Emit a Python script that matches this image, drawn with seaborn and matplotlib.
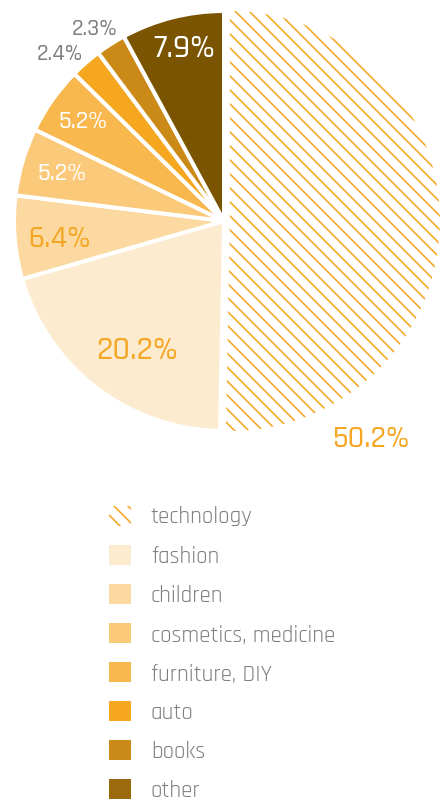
import matplotlib
matplotlib.use("Agg")
import matplotlib.pyplot as plt
from matplotlib.patches import Patch
import seaborn as sns

# Share of online sales by category (%)
categories = ["technology", "fashion", "children", "cosmetics, medicine",
              "furniture, DIY", "auto", "books", "other"]
shares = [50.2, 20.2, 6.4, 5.2, 5.2, 2.4, 2.3, 7.9]
pct_labels = ["50.2%", "20.2%", "6.4%", "5.2%", "5.2%", "2.4%", "2.3%", "7.9%"]

wedge_colors = ["#FFFFFF", "#FDEBCF", "#FCD9A0", "#FBC97A",
                "#F8B84E", "#F5A81F", "#CB8A17", "#7A5400"]
legend_colors = ["#FFFFFF", "#FDEBCF", "#FCD9A0", "#FBC97A",
                 "#F8B84E", "#F5A81F", "#CB8A17", "#9B6A0C"]
label_colors = ["#F5A623", "#F5A623", "#F5A623", "#FFFFFF",
                "#FFFFFF", "#7F7F80", "#7F7F80", "#FFFFFF"]

ORANGE = "#F5A623"
GRAY = "#808080"

DPI = 84
W, H = 444, 799


def pt(px):
    return px * 72 / DPI


sns.set_theme(style="white")
plt.rcParams["font.family"] = ["Rajdhani", "DejaVu Sans"]
plt.rcParams["hatch.linewidth"] = pt(1.6)

fig = plt.figure(figsize=(W / DPI, H / DPI), dpi=DPI)
cx, cy, R = 224, 221, 210
ax = fig.add_axes([(cx - R) / W, 1 - (cy + R) / H, 2 * R / W, 2 * R / H])

explode = [0.028] + [0] * (len(shares) - 1)
wedges, _ = ax.pie(shares, colors=wedge_colors, startangle=90, counterclock=False,
                   explode=explode, radius=1,
                   wedgeprops=dict(edgecolor="white", linewidth=pt(4)))
ax.set_xlim(-1, 1)
ax.set_ylim(-1, 1)
ax.set_aspect("equal")
ax.axis("off")
for w in wedges:
    w.set_clip_on(False)

# hatched technology slice, no outline
tech = wedges[0]
tech.set_facecolor("white")
tech.set_edgecolor(ORANGE)
tech.set_linewidth(0)
tech.set_hatch("\\\\")

# percentage labels: centre x and baseline y in pixels
label_px = [(371, 447), (137.5, 359), (60, 247), (62, 180),
            (83, 128), (60, 60), (95, 35), (184.5, 57)]
label_px_sizes = [32, 34, 32, 26, 26, 24, 24, 34]
for txt, (x, y), c, s in zip(pct_labels, label_px, label_colors, label_px_sizes):
    ax.text((x - cx) / R, (cy - y) / R, txt, color=c, fontsize=pt(s),
            fontweight=500, ha="center", va="baseline")

# legend
handles = []
for i, (name, col) in enumerate(zip(categories, legend_colors)):
    if i == 0:
        handles.append(Patch(facecolor="white", edgecolor=ORANGE, linewidth=0,
                             hatch="\\\\", label=name))
    else:
        handles.append(Patch(facecolor=col, edgecolor="none", label=name))

fs_px = 23
leg = fig.legend(handles=handles, loc="upper left",
                 bbox_to_anchor=(109 / W, 1 - 505.5 / H), frameon=False,
                 prop=dict(family=["Rajdhani", "DejaVu Sans"], weight=400,
                           size=pt(fs_px)),
                 handlelength=22.3 / fs_px,
                 handleheight=22.3 / fs_px, handletextpad=19.5 / fs_px,
                 labelspacing=0.79, borderpad=0, borderaxespad=0)
for t in leg.get_texts():
    t.set_color(GRAY)

fig.savefig("out.png", dpi=DPI, facecolor="white")
